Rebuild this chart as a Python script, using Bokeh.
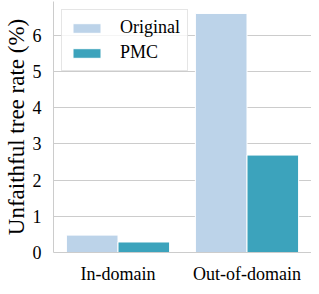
from bokeh.plotting import figure
from bokeh.models import ColumnDataSource, FactorRange, Range1d, FixedTicker, Legend, LegendItem
from bokeh.transform import dodge
from bokeh.embed import file_html
from bokeh.resources import INLINE

categories = ["In-domain", "Out-of-domain"]
original = [0.48, 6.6]
pmc = [0.29, 2.69]
y_ticks = [0, 1, 2, 3, 4, 5, 6]

FONT = "Liberation Serif"
C_ORIG = "#bcd3e9"
C_PMC = "#3ca3bc"

src = ColumnDataSource(dict(cat=categories, original=original, pmc=pmc))

p = figure(width=311, height=286, x_range=FactorRange(factors=categories, range_padding=0),
           y_range=Range1d(0, 6.93), output_backend="svg", toolbar_location=None,
           min_border_left=0, min_border_right=0, min_border_top=1, min_border_bottom=0)

r1 = p.vbar(x=dodge("cat", -0.2, range=p.x_range), top="original", width=0.4, source=src,
            fill_color=C_ORIG, line_color="white", line_width=1)
r2 = p.vbar(x=dodge("cat", 0.2, range=p.x_range), top="pmc", width=0.4, source=src,
            fill_color=C_PMC, line_color="white", line_width=1)

p.outline_line_color = None
p.xgrid.grid_line_color = None
p.ygrid.grid_line_color = "#cccccc"
p.ygrid.grid_line_width = 1
p.yaxis.ticker = FixedTicker(ticks=y_ticks)

for ax in (p.xaxis[0], p.yaxis[0]):
    ax.axis_line_color = "#cccccc"
    ax.axis_line_width = 1
    ax.major_tick_line_color = None
    ax.minor_tick_line_color = None
    ax.major_label_text_font = FONT
    ax.major_label_text_font_size = "18px"
    ax.major_label_text_color = "#000000"

p.yaxis.major_label_standoff = 6
p.xaxis.major_label_standoff = 5
p.yaxis.axis_label = "Unfaithful tree rate (%)"
p.yaxis.axis_label_text_font = FONT
p.yaxis.axis_label_text_font_size = "23px"
p.yaxis.axis_label_text_font_style = "normal"
p.yaxis.axis_label_text_color = "#000000"
p.yaxis.axis_label_standoff = 1

legend = Legend(items=[LegendItem(label="Original", renderers=[r1]),
                       LegendItem(label="PMC", renderers=[r2])],
                location="top_left")
legend.label_text_font = FONT
legend.label_text_font_size = "18px"
legend.label_text_color = "#000000"
legend.glyph_width = 35
legend.glyph_height = 12
legend.label_height = 20
legend.label_standoff = 16
legend.spacing = 4
legend.padding = 7
legend.margin = 8
legend.border_line_color = "#cccccc"
legend.border_line_width = 1
legend.background_fill_color = "white"
legend.background_fill_alpha = 0.8
p.add_layout(legend)

open("out.html", "w").write(file_html(p, INLINE))
